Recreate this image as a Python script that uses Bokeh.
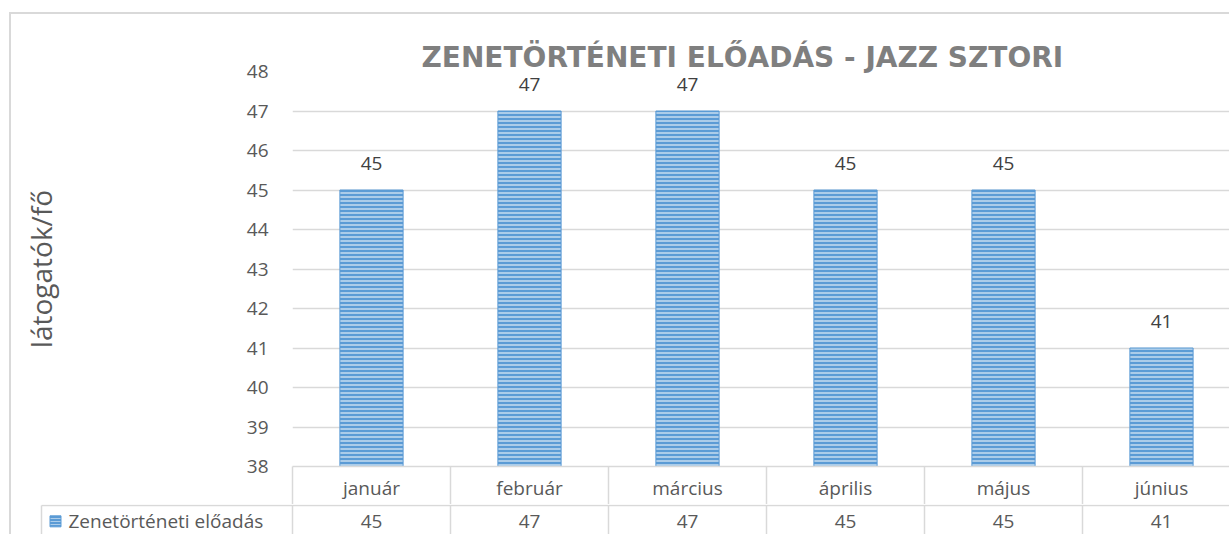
from bokeh.plotting import figure
from bokeh.models import Range1d, FixedTicker, ColumnDataSource, Title, LinearAxis
from bokeh.layouts import column
from bokeh.embed import file_html
from bokeh.resources import INLINE
from bokeh.core.properties import value

# ---- data ----
months = ["január", "február", "március", "április", "május", "június"]
visitors = [45, 47, 47, 45, 45, 41]
series_name = "Zenetörténeti előadás"
title_text = "ZENETÖRTÉNETI ELŐADÁS - JAZZ SZTORI"
y_label = "látogatók/fő"
y_ticks = [38, 39, 40, 41, 42, 43, 44, 45, 46, 47, 48]
y_min, y_max = 38, 48

# ---- layout constants ----
FONT = "Open Sans"
W = 1218
LEFT = 281          # px from figure left to plot frame
HEADER = 38         # header row of the data table (x axis panel)
MAIN_H = 452 + HEADER
TOP = 57
TABLE_H = 30
CAT_PX = 158.0      # px per category
ROW_PX = 38.0
GRID = "#d9d9d9"
TXT = "#595959"

x_start = -0.5
x_end = -0.5 + (W - LEFT) / CAT_PX
xs = list(range(len(months)))
bounds = [i - 0.5 for i in range(len(months) + 1)]

src = ColumnDataSource(dict(
    x=xs, top=visitors, label=[str(v) for v in visitors],
    month=months,
))

p = figure(width=W, height=MAIN_H, output_backend="svg", toolbar_location=None,
           x_range=Range1d(x_start, x_end), y_range=Range1d(y_min, y_max),
           x_axis_location=None,
           min_border_left=LEFT, min_border_top=TOP, min_border_bottom=HEADER,
           min_border_right=0)
p.frame_align = False
p.outline_line_color = None
p.background_fill_color = "white"
p.border_fill_color = "white"
p.xgrid.visible = False
p.ygrid.ticker = FixedTicker(ticks=y_ticks)
p.ygrid.grid_line_color = GRID
p.ygrid.grid_line_width = 1.5

ax = p.yaxis[0]
ax.ticker = FixedTicker(ticks=y_ticks)
ax.axis_line_color = None
ax.major_tick_line_color = None
ax.minor_tick_line_color = None
ax.major_tick_out = 0
ax.major_tick_in = 0
ax.major_label_standoff = 24
ax.major_label_text_font = FONT
ax.major_label_text_font_size = "19px"
ax.major_label_text_color = TXT
ax.axis_label = y_label
ax.axis_label_text_font = FONT
ax.axis_label_text_font_size = "28px"
ax.axis_label_text_font_style = "normal"
ax.axis_label_text_color = TXT
ax.axis_label_standoff = 184

# x axis = header row of the data table
xa = LinearAxis(ticker=FixedTicker(ticks=xs, minor_ticks=bounds),
                major_label_overrides={x: m for x, m in zip(xs, months)})
xa.axis_line_color = GRID
xa.axis_line_width = 1.5
xa.major_tick_line_color = None
xa.major_tick_out = 0
xa.major_tick_in = 0
xa.minor_tick_line_color = GRID
xa.minor_tick_line_width = 1.5
xa.minor_tick_out = HEADER
xa.minor_tick_in = 0
xa.major_label_standoff = 8 - HEADER
xa.major_label_text_font = FONT
xa.major_label_text_font_size = "19px"
xa.major_label_text_color = TXT
p.add_layout(xa, "below")

p.title = Title(text=title_text, align="left", text_font="DejaVu Sans",
                text_font_size="28px", text_font_style="bold",
                text_color="#7f7f7f", standoff=-4, offset=129)

p.vbar(x="x", top="top", bottom=y_min, width=0.4, source=src,
       fill_color="#5b9bd5", line_color="#5b9bd5", line_width=1,
       hatch_pattern="horizontal_line", hatch_color="white",
       hatch_alpha=0.65, hatch_scale=4, hatch_weight=1.5)

p.text(x="x", y="top", text="label", source=src, text_align="center",
       text_baseline="bottom", y_offset=-20, text_font=value(FONT),
       text_font_size="19px", text_color="#404040")

# ---- data row of the table ----
t_left = -0.5 - LEFT / CAT_PX
t = figure(width=W, height=TABLE_H, output_backend="svg", toolbar_location=None,
           x_range=Range1d(t_left, x_end),
           y_range=Range1d(-TABLE_H / ROW_PX, 0.03),
           x_axis_location=None, y_axis_location=None,
           min_border=0)
t.frame_align = False
t.outline_line_color = None
t.grid.visible = False

legend_left = -0.5 - (LEFT - 30) / CAT_PX
bottom = -TABLE_H / ROW_PX - 0.2

t.segment(x0=[legend_left], y0=[0], x1=[x_end], y1=[0],
          line_color=GRID, line_width=1.5)
vx = [legend_left] + bounds
t.segment(x0=vx, y0=[0] * len(vx), x1=vx, y1=[bottom] * len(vx),
          line_color=GRID, line_width=1.5)

ROW_Y = -0.43
t.text(x="x", y=ROW_Y, text="label", source=src, text_align="center",
       text_baseline="middle", text_font=value(FONT), text_font_size="19px",
       text_color=TXT)

key_x = -0.5 - (LEFT - 44) / CAT_PX
t.scatter(x=[key_x], y=[ROW_Y], marker="square", size=11,
          fill_color="#5b9bd5", line_color="#5b9bd5",
          hatch_pattern="horizontal_line", hatch_color="white",
          hatch_alpha=0.5, hatch_scale=3, hatch_weight=1)
t.text(x=[-0.5 - (LEFT - 57) / CAT_PX], y=[ROW_Y], text=[series_name],
       text_align="left", text_baseline="middle", text_font=value(FONT),
       text_font_size="19px", text_color=TXT)

layout = column(p, t, spacing=0, margin=(12, 0, 0, 9),
                styles={"border-left": "2px solid #d9d9d9",
                        "border-top": "2px solid #d9d9d9"})

open("out.html", "w").write(file_html(layout, INLINE))
